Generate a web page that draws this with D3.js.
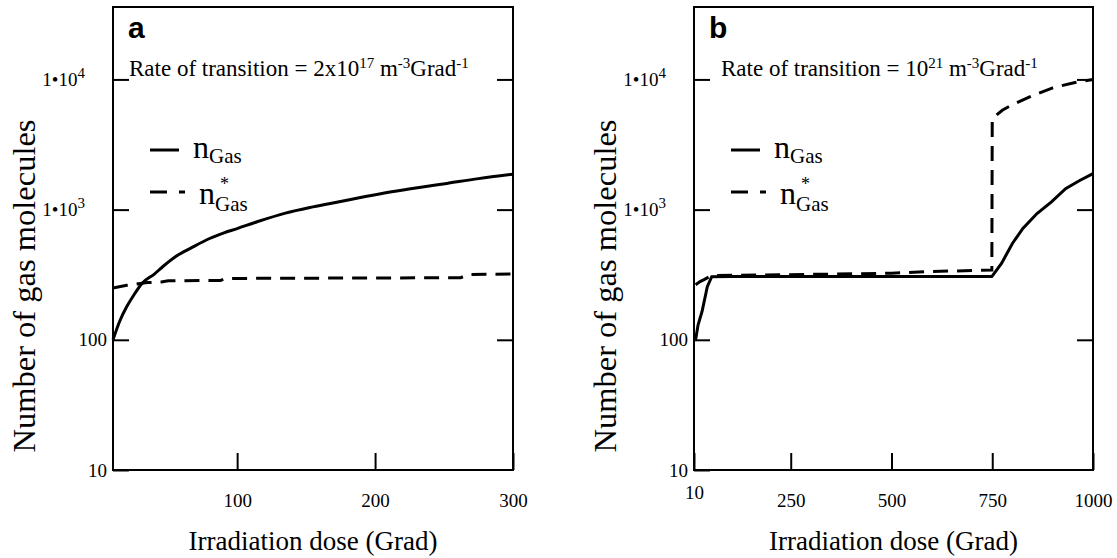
<!DOCTYPE html>
<html>
<head>
<meta charset="utf-8">
<script src="https://cdn.jsdelivr.net/npm/d3@7"></script>
<style>
  body { margin: 0; background: #fff; }
  svg text { font-family: "Liberation Serif", "Times New Roman", serif; fill: #000; }
</style>
</head>
<body>
<div id="chart"></div>
<script>
// Chart size
const width = 1117;
const height = 558;

// Shared y ticks (log scale)
const yTicks = [10, 100, 1000, 10000];

// Panel a data
const aXTicks = [100, 200, 300];
const aGasDose = [10, 15, 20, 25, 31, 40, 46, 56, 67, 80, 90, 100, 115, 135, 155, 174, 193, 212, 232, 252, 275, 300];
const aGas = [100, 140, 180, 220, 271, 320, 364, 440, 510, 600, 660, 715, 810, 940, 1050, 1150, 1260, 1370, 1480, 1590, 1730, 1870];
const aStarDose = [10, 20, 35, 45, 50, 88, 92, 262, 268, 300];
const aStar = [250, 262, 275, 278, 284, 286, 296, 300, 318, 320];

// Panel b data
const bXTicks = [10, 250, 500, 750, 1000];
const bGasDose = [14, 20, 30, 43, 54, 100, 749, 773, 800, 826, 861, 897, 932, 967, 1000];
const bGas = [100, 130, 165, 256, 305, 306, 306, 386, 550, 716, 933, 1145, 1449, 1675, 1890];
const bStarDose = [14, 25, 35, 54, 300, 500, 600, 749, 750, 775, 800, 850, 900, 950, 1000];
const bStar = [265, 280, 290, 312, 318, 325, 335, 343, 5000, 5800, 6400, 7500, 8600, 9400, 10000];

const serif = "'Liberation Serif', 'Times New Roman', serif";

const svg = d3.select("#chart").append("svg")
    .attr("width", width)
    .attr("height", height);

svg.append("rect").attr("width", width).attr("height", height).attr("fill", "#fff");

// y scale is the same for both panels
const y = d3.scaleLog().domain([10, 36000]).range([470, 7]);

function drawPanel(p) {
    const x = d3.scaleLinear().domain(p.xDomain).range([p.left, p.right]);
    const g = svg.append("g");

    // left axis with inward ticks
    const yAxis = g.append("g")
        .attr("transform", `translate(${p.left},0)`)
        .call(d3.axisLeft(y).tickValues(yTicks).tickSizeInner(-16).tickSizeOuter(0).tickPadding(6));
    yAxis.select(".domain").remove();
    yAxis.selectAll("line").attr("stroke", "#000").attr("stroke-width", 2);
    yAxis.selectAll("text").each(function(d) {
        const t = d3.select(this)
            .style("font-family", serif)
            .style("font-size", "19px")
            .attr("x", d >= 1000 ? -28 : -6)
            .text(null);
        if (d >= 1000) {
            t.append("tspan").text("1\u202210");
            t.append("tspan").style("font-size", "15px").attr("dy", -8).text(Math.round(Math.log10(d)));
        } else {
            t.text(d);
        }
    });

    // right axis, ticks only
    const yRight = g.append("g")
        .attr("transform", `translate(${p.right},0)`)
        .call(d3.axisRight(y).tickValues(yTicks.slice(1)).tickSizeInner(-16).tickSizeOuter(0).tickFormat(""));
    yRight.select(".domain").remove();
    yRight.selectAll("line").attr("stroke", "#000").attr("stroke-width", 2);

    // bottom axis with inward ticks
    const xAxis = g.append("g")
        .attr("transform", `translate(0,470)`)
        .call(d3.axisBottom(x).tickValues(p.xTicks).tickSizeInner(-17).tickSizeOuter(0).tickFormat(d3.format("d")));
    xAxis.select(".domain").remove();
    xAxis.selectAll("line").attr("stroke", "#000").attr("stroke-width", 2);
    xAxis.selectAll("text")
        .style("font-family", serif)
        .style("font-size", "19px")
        .attr("y", d => d === 10 ? 16 : 24);

    // frame
    g.append("rect")
        .attr("x", p.left).attr("y", 7)
        .attr("width", p.right - p.left).attr("height", 470 - 7)
        .attr("fill", "none").attr("stroke", "#000").attr("stroke-width", 2);

    // curves
    const line = d3.line().x(d => x(d[0])).y(d => y(d[1]));
    g.append("path")
        .datum(d3.zip(p.starDose, p.star))
        .attr("d", line)
        .attr("fill", "none").attr("stroke", "#000").attr("stroke-width", 3)
        .attr("stroke-dasharray", "15,9");
    g.append("path")
        .datum(d3.zip(p.gasDose, p.gas))
        .attr("d", line.curve(p.smooth ? d3.curveMonotoneX : d3.curveLinear))
        .attr("fill", "none").attr("stroke", "#000").attr("stroke-width", 3);

    // panel letter
    g.append("text")
        .attr("x", p.left + 15).attr("y", 38)
        .style("font-family", "'Liberation Sans', Arial, sans-serif")
        .style("font-weight", "bold").style("font-size", "30px")
        .text(p.letter);

    // rate of transition
    const rate = g.append("text")
        .attr("x", p.left + p.rateDx).attr("y", 76)
        .style("font-size", "23px");
    p.rate.forEach(part => {
        rate.append("tspan")
            .style("font-size", part.sup ? "15px" : "23px")
            .attr("dy", part.sup ? -8 : (part.after ? 8 : 0))
            .text(part.t);
    });

    // legend
    const lx = p.left + 37;
    g.append("line")
        .attr("x1", lx).attr("x2", lx + 29).attr("y1", 150).attr("y2", 150)
        .attr("stroke", "#000").attr("stroke-width", 3);
    g.append("line")
        .attr("x1", lx).attr("x2", lx + 36).attr("y1", 192).attr("y2", 192)
        .attr("stroke", "#000").attr("stroke-width", 3)
        .attr("stroke-dasharray", "17,12,6,50");

    const t1 = g.append("text").attr("x", lx + 43).attr("y", 158).style("font-size", "32px");
    t1.append("tspan").text("n");
    t1.append("tspan").style("font-size", "21px").attr("dy", 5).text("Gas");

    const t2 = g.append("text").attr("x", lx + 49).attr("y", 204).style("font-size", "32px");
    t2.append("tspan").text("n");
    t2.append("tspan").style("font-size", "21px").attr("dy", 7).text("Gas");
    g.append("text").attr("x", lx + 70).attr("y", 190).style("font-size", "18px").text("*");

    // axis titles
    g.append("text")
        .attr("x", (p.left + p.right) / 2).attr("y", 550)
        .attr("text-anchor", "middle").style("font-size", "27px")
        .text("Irradiation dose (Grad)");
    g.append("text")
        .attr("transform", `translate(${p.left - 78},286) rotate(-90)`)
        .attr("text-anchor", "middle").style("font-size", "32.5px")
        .text("Number of gas molecules");
}

drawPanel({
    left: 113, right: 513, xDomain: [10, 300], xTicks: aXTicks, letter: "a", smooth: true,
    gasDose: aGasDose, gas: aGas, starDose: aStarDose, star: aStar,
    rateDx: 16,
    rate: [
        { t: "Rate of transition = 2x10" }, { t: "17", sup: true },
        { t: " m", after: true }, { t: "-3", sup: true },
        { t: "Grad", after: true }, { t: "-1", sup: true }
    ]
});

drawPanel({
    left: 694, right: 1093, xDomain: [10, 1000], xTicks: bXTicks, letter: "b", smooth: false,
    gasDose: bGasDose, gas: bGas, starDose: bStarDose, star: bStar,
    rateDx: 27,
    rate: [
        { t: "Rate of transition = 10" }, { t: "21", sup: true },
        { t: " m", after: true }, { t: "-3", sup: true },
        { t: "Grad", after: true }, { t: "-1", sup: true }
    ]
});
</script>
</body>
</html>
